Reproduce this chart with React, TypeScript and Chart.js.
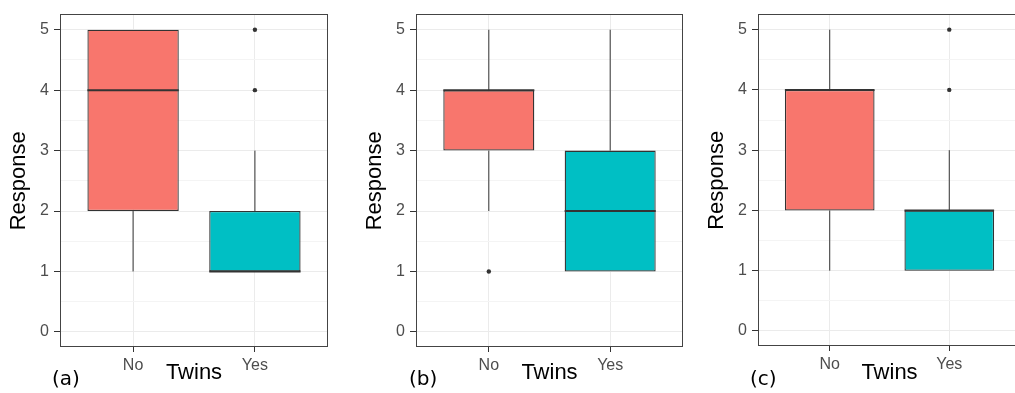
import React, { useEffect, useRef } from 'react';
import { Chart, registerables } from 'chart.js';

Chart.register(...registerables);

// ---------- data ----------
const categories = ['No', 'Yes'];
const panelTags = ['(a)', '(b)', '(c)'];
const yTickValues = [0, 1, 2, 3, 4, 5];
const yMinorValues = [0.5, 1.5, 2.5, 3.5, 4.5];
const boxFill = ['#F8766D', '#00BFC4'];

// panel (a)
const aWhiskerLow = [1, 1];
const aQ1 = [2, 1];
const aMedian = [4, 1];
const aQ3 = [5, 2];
const aWhiskerHigh = [5, 3];
const aOutliers = [[], [4, 5]];

// panel (b)
const bWhiskerLow = [2, 1];
const bQ1 = [3, 1];
const bMedian = [4, 2];
const bQ3 = [4, 3];
const bWhiskerHigh = [5, 5];
const bOutliers = [[1], []];

// panel (c)
const cWhiskerLow = [1, 1];
const cQ1 = [2, 1];
const cMedian = [4, 2];
const cQ3 = [4, 2];
const cWhiskerHigh = [5, 3];
const cOutliers = [[], [4, 5]];

// ---------- styling / layout ----------
const BOX_WIDTH = 0.75;
const CANVAS_H = 393;
const Y_AXIS_W = 60;
const FONT = "'Liberation Sans', Arial, sans-serif";
const DARK = '#333333';

type Stats = {
  low: number[];
  q1: number[];
  med: number[];
  q3: number[];
  high: number[];
  outliers: number[][];
};

type Layout = {
  canvasLeft: number;
  width: number;
  plotTop: number;
  plotBottom: number;
  plotRight: number;
  tagLeft: number;
};

const panels: { stats: Stats; layout: Layout; tag: string }[] = [
  {
    stats: { low: aWhiskerLow, q1: aQ1, med: aMedian, q3: aQ3, high: aWhiskerHigh, outliers: aOutliers },
    layout: { canvasLeft: 0, width: 356, plotTop: 11.5, plotBottom: 347, plotRight: 328, tagLeft: 52 },
    tag: panelTags[0],
  },
  {
    stats: { low: bWhiskerLow, q1: bQ1, med: bMedian, q3: bQ3, high: bWhiskerHigh, outliers: bOutliers },
    layout: { canvasLeft: 356, width: 342, plotTop: 11.5, plotBottom: 347, plotRight: 683, tagLeft: 409 },
    tag: panelTags[1],
  },
  {
    stats: { low: cWhiskerLow, q1: cQ1, med: cMedian, q3: cQ3, high: cWhiskerHigh, outliers: cOutliers },
    layout: { canvasLeft: 698, width: 327, plotTop: 10, plotBottom: 346, plotRight: 1022, tagLeft: 750 },
    tag: panelTags[2],
  },
];

const panelBorder = {
  id: 'panelBorder',
  afterDatasetsDraw(chart: any) {
    const { ctx, chartArea: a } = chart;
    ctx.save();
    ctx.strokeStyle = '#444444';
    ctx.lineWidth = 1;
    const x0 = Math.floor(a.left) + 0.5;
    const y0 = Math.floor(a.top) + 0.5;
    const x1 = Math.floor(a.right) - 0.5;
    const y1 = Math.floor(a.bottom) - 0.5;
    ctx.strokeRect(x0, y0, x1 - x0, y1 - y0);
    ctx.restore();
  },
};

function segment(points: { x: number; y: number }[], width: number, order: number) {
  return {
    type: 'line',
    data: points,
    borderColor: DARK,
    borderWidth: width,
    pointRadius: 0,
    fill: false,
    tension: 0,
    order,
  };
}

function buildConfig(stats: Stats, layout: Layout): any {
  const { low, q1, med, q3, high, outliers } = stats;
  const datasets: any[] = [];

  datasets.push({
    type: 'bar',
    data: categories.map((_, i) => ({ x: i + 1, y: [q1[i], q3[i]] })),
    backgroundColor: boxFill,
    borderColor: DARK,
    borderWidth: 1.3,
    borderSkipped: false,
    grouped: false,
    barPercentage: BOX_WIDTH,
    categoryPercentage: 1,
    order: 2,
  });

  categories.forEach((_, i) => {
    const x = i + 1;
    if (low[i] < q1[i]) datasets.push(segment([{ x, y: low[i] }, { x, y: q1[i] }], 1, 3));
    if (high[i] > q3[i]) datasets.push(segment([{ x, y: q3[i] }, { x, y: high[i] }], 1, 3));
    datasets.push(
      segment(
        [
          { x: x - BOX_WIDTH / 2, y: med[i] },
          { x: x + BOX_WIDTH / 2, y: med[i] },
        ],
        2,
        0
      )
    );
  });

  datasets.push({
    type: 'scatter',
    data: outliers.flatMap((vals, i) => vals.map((v) => ({ x: i + 1, y: v }))),
    pointRadius: 2.2,
    pointBackgroundColor: DARK,
    pointBorderWidth: 0,
    order: 0,
  });

  const isMajor = (v: number | undefined) => v !== undefined && yTickValues.includes(v);

  return {
    type: 'bar',
    data: { datasets },
    plugins: [panelBorder],
    options: {
      animation: false,
      responsive: false,
      maintainAspectRatio: false,
      events: [],
      layout: {
        padding: {
          left: 0,
          top: layout.plotTop,
          right: layout.width - (layout.plotRight - layout.canvasLeft),
          bottom: 0,
        },
      },
      plugins: {
        legend: { display: false },
        tooltip: { enabled: false },
        title: { display: false },
      },
      scales: {
        x: {
          type: 'linear',
          min: 0.4,
          max: 2.6,
          offset: false,
          afterBuildTicks: (axis: any) => {
            axis.ticks = categories.map((_, i) => ({ value: i + 1 }));
          },
          afterFit: (axis: any) => {
            axis.height = CANVAS_H - layout.plotBottom;
          },
          ticks: {
            callback: (v: any) => categories[Math.round(Number(v)) - 1] ?? '',
            color: '#4D4D4D',
            font: { family: FONT, size: 16 },
            padding: 4,
            autoSkip: false,
            maxRotation: 0,
          },
          grid: {
            offset: false,
            color: '#EBEBEB',
            lineWidth: 1,
            drawTicks: true,
            tickLength: 5,
            tickColor: DARK,
            tickWidth: 1,
          },
          border: { display: false },
          title: {
            display: true,
            text: 'Twins',
            color: '#000000',
            font: { family: FONT, size: 22 },
            padding: { top: 0, bottom: 7 },
          },
        },
        y: {
          type: 'linear',
          min: -0.25,
          max: 5.25,
          afterBuildTicks: (axis: any) => {
            axis.ticks = [...yTickValues, ...yMinorValues]
              .sort((p, q) => p - q)
              .map((v) => ({ value: v }));
          },
          afterFit: (axis: any) => {
            axis.width = Y_AXIS_W;
          },
          ticks: {
            callback: (v: any) => (yTickValues.includes(Number(v)) ? String(v) : ''),
            color: '#4D4D4D',
            font: { family: FONT, size: 16 },
            padding: 5,
            autoSkip: false,
          },
          grid: {
            color: (ctx: any) => (isMajor(ctx.tick?.value) ? '#EBEBEB' : '#F4F4F4'),
            lineWidth: 1,
            drawTicks: true,
            tickLength: 6,
            tickColor: (ctx: any) => (isMajor(ctx.tick?.value) ? DARK : 'rgba(0,0,0,0)'),
            tickWidth: 1,
          },
          border: { display: false },
          title: {
            display: true,
            text: 'Response',
            color: '#000000',
            font: { family: FONT, size: 22 },
            padding: { top: 5.5, bottom: 0 },
          },
        },
      },
    },
  };
}

function Panel({ stats, layout, tag }: { stats: Stats; layout: Layout; tag: string }) {
  const ref = useRef<HTMLCanvasElement | null>(null);
  useEffect(() => {
    if (!ref.current) return;
    const chart = new Chart(ref.current, buildConfig(stats, layout));
    return () => chart.destroy();
  }, [stats, layout]);
  return (
    <>
      <canvas
        ref={ref}
        width={layout.width}
        height={CANVAS_H}
        style={{ position: 'absolute', left: layout.canvasLeft, top: 0, width: layout.width, height: CANVAS_H }}
      />
      <div
        style={{
          position: 'absolute',
          left: layout.tagLeft,
          top: 368.3,
          fontFamily: "'DejaVu Sans', sans-serif",
          fontSize: 20,
          lineHeight: '20px',
          color: '#000000',
          whiteSpace: 'nowrap',
        }}
      >
        {tag}
      </div>
    </>
  );
}

export default function App() {
  return (
    <div
      style={{
        position: 'absolute',
        left: 0,
        top: 0,
        width: 1015,
        height: CANVAS_H,
        overflow: 'hidden',
        background: '#ffffff',
      }}
    >
      {panels.map((p) => (
        <Panel key={p.tag} stats={p.stats} layout={p.layout} tag={p.tag} />
      ))}
    </div>
  );
}
